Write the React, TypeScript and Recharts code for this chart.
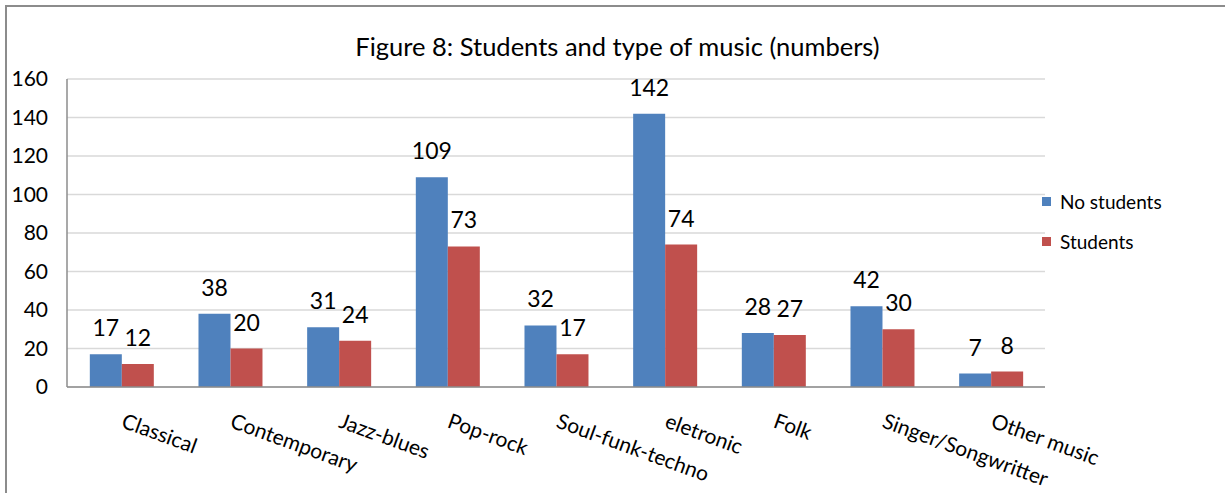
import React from "react";
import { BarChart, Bar, XAxis, YAxis, CartesianGrid, LabelList } from "recharts";

const categories = [
  "Classical",
  "Contemporary",
  "Jazz-blues",
  "Pop-rock",
  "Soul-funk-techno",
  "eletronic",
  "Folk",
  "Singer/Songwritter",
  "Other music",
];
const noStudents = [17, 38, 31, 109, 32, 142, 28, 42, 7];
const students = [12, 20, 24, 73, 17, 74, 27, 30, 8];
const yTicks = [0, 20, 40, 60, 80, 100, 120, 140, 160];

const data = categories.map((name, i) => ({
  name,
  noStudents: noStudents[i],
  students: students[i],
}));

const FONT = "Lato, 'Open Sans', sans-serif";
const BLUE = "#4F81BD";
const RED = "#C0504D";

// slanted category labels, like Excel's rotated axis text
const CategoryTick = (props: any) => {
  const { x, y, payload } = props;
  return (
    <text
      x={x - 1}
      y={y + 32}
      transform={`rotate(20, ${x - 1}, ${y + 32})`}
      textAnchor="start"
      fontSize={21}
      fontFamily={FONT}
      fill="#000"
    >
      {payload.value}
    </text>
  );
};

const legendItems = [
  { label: "No students", color: BLUE },
  { label: "Students", color: RED },
];

export default function App() {
  return (
    <div
      style={{
        position: "absolute",
        left: 0,
        top: 0,
        width: 1225,
        height: 493,
        background: "#fff",
        overflow: "hidden",
      }}
    >
      <div
        style={{
          position: "absolute",
          left: 5,
          top: 5,
          width: 1240,
          height: 510,
          border: "2px solid #8c8c8c",
        }}
      />
      <div
        style={{
          position: "absolute",
          left: 0,
          top: 31,
          width: 1235,
          textAlign: "center",
          fontFamily: FONT,
          fontSize: 25.5,
          color: "#000",
        }}
      >
        Figure 8: Students and type of music (numbers)
      </div>
      <div style={{ position: "absolute", left: 0, top: 0 }}>
        <BarChart
          width={1225}
          height={493}
          data={data}
          margin={{ top: 79, right: 180, bottom: 6, left: 7 }}
          barCategoryGap="21%"
          barGap={0}
        >
          <CartesianGrid vertical={false} stroke="#d9d9d9" strokeWidth={1.5} />
          <XAxis
            dataKey="name"
            height={100}
            interval={0}
            tickLine={false}
            axisLine={{ stroke: "#8c8c8c", strokeWidth: 1.5 }}
            tick={<CategoryTick />}
          />
          <YAxis
            width={60}
            domain={[0, 160]}
            ticks={yTicks}
            interval={0}
            tickLine={false}
            tickSize={0}
            tickMargin={19}
            axisLine={{ stroke: "#8c8c8c", strokeWidth: 1.5 }}
            tick={{ fontSize: 21, fontFamily: FONT, fill: "#000" }}
          />
          <Bar dataKey="noStudents" name="No students" fill={BLUE} isAnimationActive={false}>
            <LabelList dataKey="noStudents" position="top" offset={18} fontSize={23} fontFamily={FONT} fill="#000" />
          </Bar>
          <Bar dataKey="students" name="Students" fill={RED} isAnimationActive={false}>
            <LabelList dataKey="students" position="top" offset={18} fontSize={23} fontFamily={FONT} fill="#000" />
          </Bar>
        </BarChart>
      </div>
      <div
        style={{
          position: "absolute",
          left: 1042,
          top: 181,
          fontFamily: FONT,
          fontSize: 19,
          color: "#000",
        }}
      >
        {legendItems.map((item) => (
          <div key={item.label} style={{ display: "flex", alignItems: "center", height: 40 }}>
            <span style={{ width: 9, height: 9, background: item.color, marginRight: 9 }} />
            <span>{item.label}</span>
          </div>
        ))}
      </div>
    </div>
  );
}
